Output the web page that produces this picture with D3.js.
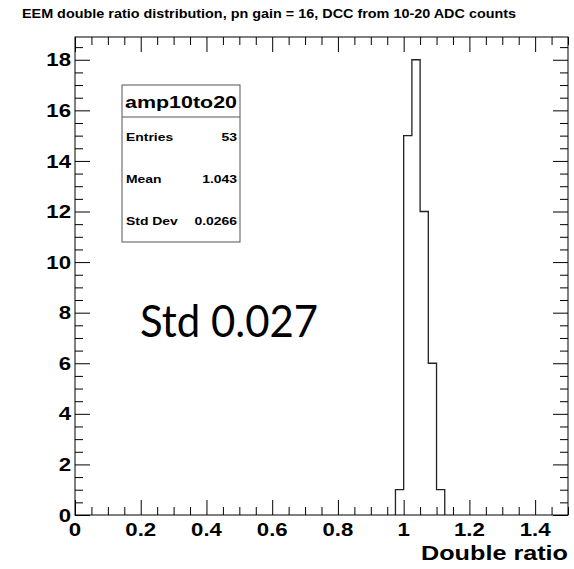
<!DOCTYPE html>
<html>
<head>
<meta charset="utf-8">
<script src="https://cdn.jsdelivr.net/npm/d3@7/dist/d3.min.js"></script>
<style>
  html, body { margin: 0; padding: 0; background: #fff; }
  svg { display: block; }
  text { font-family: "Liberation Sans", Arial, Helvetica, sans-serif; }
  text.note { font-family: Lato, "Open Sans", sans-serif; }
</style>
</head>
<body>
<div id="chart"></div>
<script>
// Histogram "amp10to20": bins of width 0.025 on the double ratio axis
const binLow = [0.975, 1.0, 1.025, 1.05, 1.075, 1.1];
const binWidth = 0.025;
const binCounts = [1, 15, 18, 12, 6, 1];

// Axis ticks and labels
const xMajorTicks = [0, 0.2, 0.4, 0.6, 0.8, 1.0, 1.2, 1.4];
const xTickLabels = ["0", "0.2", "0.4", "0.6", "0.8", "1", "1.2", "1.4"];
const yMajorTicks = [0, 2, 4, 6, 8, 10, 12, 14, 16, 18];
const yTickLabels = ["0", "2", "4", "6", "8", "10", "12", "14", "16", "18"];

// Statistics panel
const statsName = "amp10to20";
const statsLabels = ["Entries", "Mean", "Std Dev"];
const statsValues = ["53", "1.043", "0.0266"];

const titleText = "EEM double ratio distribution, pn gain = 16, DCC from 10-20 ADC counts";
const xTitle = "Double ratio";
const noteText = "Std 0.027";

const W = 574, H = 569;
const frame = { left: 75, right: 568, top: 37, bottom: 515 };
const SX = 1.2; // horizontal stretch applied to the Helvetica-style text

const svg = d3.select("#chart").append("svg")
  .attr("width", W).attr("height", H);

const x = d3.scaleLinear().domain([0, 1.5]).range([frame.left, frame.right]);
const y = d3.scaleLinear().domain([0, 18.9]).range([frame.bottom, frame.top]);

// text helper: anchor at (px, py), horizontally stretched
function label(g, px, py, str, size, anchor, weight, sx) {
  return g.append("text")
    .attr("transform", `translate(${px},${py}) scale(${sx},1)`)
    .attr("text-anchor", anchor)
    .attr("font-size", size)
    .attr("font-weight", weight)
    .attr("fill", "#000")
    .text(str);
}

// Title
label(svg, 269, 18, titleText, 12, "middle", "bold", SX);

// Histogram outline
const pts = [];
binLow.forEach((lo, i) => {
  const prev = i === 0 ? 0 : binCounts[i - 1];
  pts.push([lo, prev]);
  pts.push([lo, binCounts[i]]);
  pts.push([lo + binWidth, binCounts[i]]);
});
pts.push([binLow[binLow.length - 1] + binWidth, 0]);
const line = d3.line().x(d => x(d[0])).y(d => y(d[1]));
svg.append("path").attr("d", line(pts))
  .attr("fill", "none").attr("stroke", "#222").attr("stroke-width", 1.3);

// Axes with inward ticks on all four sides
const xMinor = d3.range(0, 1.5001, 0.05).filter(v => Math.abs(v / 0.2 - Math.round(v / 0.2)) > 1e-6);
const yMinor = d3.range(0, 18.9, 0.5).filter(v => Math.abs(v / 2 - Math.round(v / 2)) > 1e-6);

function drawAxis(gen, transform, major, minor, majorLen, minorLen) {
  const gMaj = svg.append("g").attr("transform", transform)
    .call(gen.tickValues(major).tickSizeInner(-majorLen).tickSizeOuter(0).tickFormat(""));
  const gMin = svg.append("g").attr("transform", transform)
    .call(gen.tickValues(minor).tickSizeInner(-minorLen).tickSizeOuter(0).tickFormat(""));
  [gMaj, gMin].forEach(g => {
    g.select(".domain").remove();
    g.selectAll("line").attr("stroke", "#000").attr("stroke-width", 1);
  });
}
drawAxis(d3.axisBottom(x), `translate(0,${frame.bottom})`, xMajorTicks, xMinor, 15, 8);
drawAxis(d3.axisTop(x), `translate(0,${frame.top})`, xMajorTicks, xMinor, 15, 8);
drawAxis(d3.axisLeft(y), `translate(${frame.left},0)`, yMajorTicks, yMinor, 15, 8);
drawAxis(d3.axisRight(y), `translate(${frame.right},0)`, yMajorTicks, yMinor, 15, 8);

// Frame
svg.append("rect")
  .attr("x", frame.left).attr("y", frame.top)
  .attr("width", frame.right - frame.left).attr("height", frame.bottom - frame.top)
  .attr("fill", "none").attr("stroke", "#000").attr("stroke-width", 1);

// Tick labels
xMajorTicks.forEach((v, i) => {
  label(svg, x(v), 536, xTickLabels[i], 18.5, "middle", "bold", SX);
});
yMajorTicks.forEach((v, i) => {
  label(svg, frame.left - 4, y(v) + 6.6, yTickLabels[i], 18.5, "end", "bold", SX);
});

// Axis title
label(svg, frame.right, 560, xTitle, 21, "end", "bold", SX);

// Statistics box
const box = { x0: 122, x1: 240, y0: 85, y1: 242, sep: 117 };
svg.append("rect")
  .attr("x", box.x0).attr("y", box.y0)
  .attr("width", box.x1 - box.x0).attr("height", box.y1 - box.y0)
  .attr("fill", "#fff").attr("stroke", "#555").attr("stroke-width", 1);
svg.append("line")
  .attr("x1", box.x0).attr("x2", box.x1).attr("y1", box.sep).attr("y2", box.sep)
  .attr("stroke", "#555").attr("stroke-width", 1);
label(svg, (box.x0 + box.x1) / 2, 108, statsName, 16.5, "middle", "bold", 1.3);
const rowY = [141, 183, 225];
statsLabels.forEach((s, i) => {
  label(svg, 126, rowY[i], s, 11.6, "start", "bold", SX);
  label(svg, 237, rowY[i], statsValues[i], 11.6, "end", "bold", SX);
});

// Annotation
svg.append("text")
  .attr("class", "note")
  .attr("x", 140).attr("y", 337)
  .attr("font-size", 44)
  .attr("textLength", 178)
  .attr("lengthAdjust", "spacingAndGlyphs")
  .attr("fill", "#000")
  .text(noteText);
</script>
</body>
</html>
